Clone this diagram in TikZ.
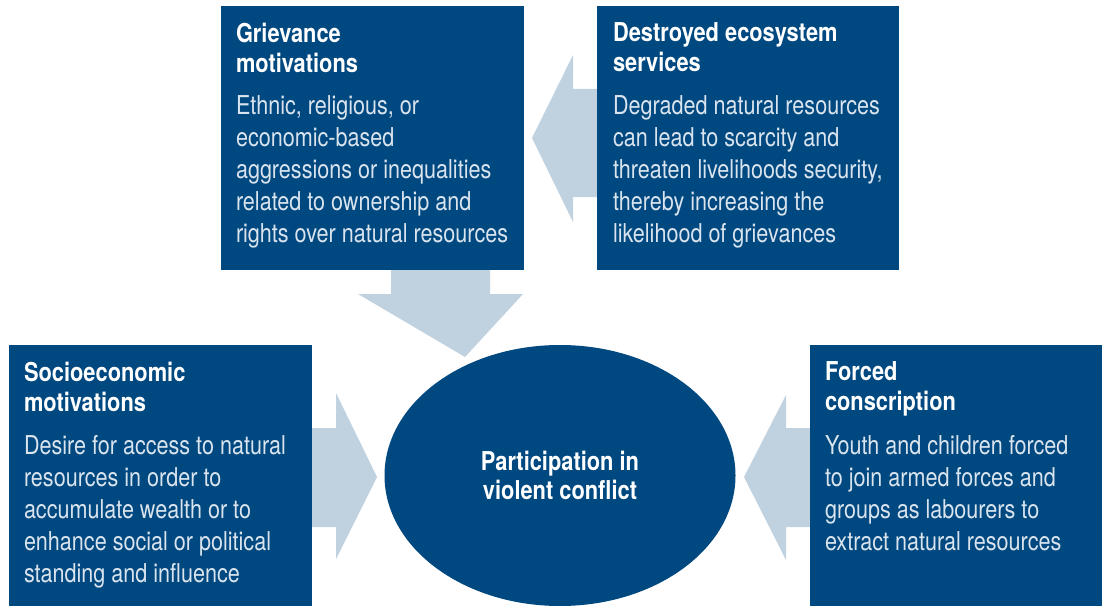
\documentclass[tikz,border=0pt]{standalone}
\usepackage{fontspec}
\setmainfont{TeX Gyre Heros}[FakeStretch=0.83]
\newfontfamily\headfont{TeX Gyre Heros}[FakeStretch=0.84]
\usetikzlibrary{positioning,shapes.geometric,fit}

\definecolor{panelblue}{RGB}{0,72,128}
\definecolor{arrowgrey}{RGB}{192,209,223}
\definecolor{bodygrey}{RGB}{218,228,238}

\tikzset{
  panel/.style={fill=panelblue, draw=none, inner sep=0pt},
  heading/.style={anchor=north west, inner sep=0pt, align=left, text=white,
    font=\headfont\bfseries\fontsize{19.5}{22.5}\selectfont},
  bodytxt/.style={anchor=north west, inner sep=0pt, align=left, text=bodygrey,
    font=\fontsize{19.5}{24}\selectfont},
  flow/.style={fill=arrowgrey, draw=none}
}

\begin{document}
\begin{tikzpicture}[x=0.75pt, y=-0.75pt]
  \useasboundingbox (0,0) rectangle (1102,606);

  % block arrows (behind the panels)
  \fill[flow] (597,89) -- (573,89) -- (573,55) -- (532,138) -- (573,222) -- (573,197) -- (597,197) -- cycle;
  \fill[flow] (391,268) -- (391,294) -- (358,294) -- (465,357) -- (523,294) -- (490,294) -- (490,268) -- cycle;
  \fill[flow] (310,428) -- (336,428) -- (336,393) -- (377,477) -- (336,559) -- (336,527) -- (310,527) -- cycle;
  \fill[flow] (812,428) -- (786,428) -- (786,395) -- (744,477) -- (786,560) -- (786,527) -- (812,527) -- cycle;

  % panels
  \node[panel, fit={(221,6) (524,270)}] (griev) {};
  \node[panel, fit={(597,6) (899,270)}] (destr) {};
  \node[panel, fit={(9,345) (312,606)}] (socio) {};
  \node[panel, fit={(810,345) (1102,606)}] (forced) {};

  % centre
  \node[ellipse, fill=panelblue, inner sep=0pt, minimum width=263.25pt, minimum height=195.75pt,
    text=white, align=center, font=\headfont\bfseries\fontsize{19.5}{21.75}\selectfont] (conflict) at (560,475.5)
    {Participation in\\violent conflict};

  % texts
  \node[heading, below right=12.75pt and 11.25pt of griev.north west] (grievT) {Grievance\\motivations};
  \node[bodytxt, below right=67.5pt and 11.25pt of griev.north west] (grievB)
    {Ethnic, religious, or\\economic-based\\aggressions or inequalities\\related to ownership and\\rights over natural resources};

  \node[heading, below right=12.75pt and 12pt of destr.north west] (destrT) {Destroyed ecosystem\\services};
  \node[bodytxt, below right=67.5pt and 12pt of destr.north west] (destrB)
    {Degraded natural resources\\can lead to scarcity and\\threaten livelihoods security,\\thereby increasing the\\likelihood of grievances};

  \node[heading, below right=12.75pt and 11.25pt of socio.north west] (socioT) {Socioeconomic\\motivations};
  \node[bodytxt, below right=67.5pt and 11.25pt of socio.north west] (socioB)
    {Desire for access to natural\\resources in order to\\accumulate wealth or to\\enhance social or political\\standing and influence};

  \node[heading, below right=12.75pt and 11.25pt of forced.north west] (forcedT) {Forced\\conscription};
  \node[bodytxt, below right=67.5pt and 11.25pt of forced.north west] (forcedB)
    {Youth and children forced\\to join armed forces and\\groups as labourers to\\extract natural resources};
\end{tikzpicture}
\end{document}
